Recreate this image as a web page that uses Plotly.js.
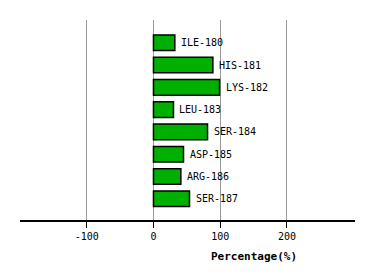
<!DOCTYPE html>
<html><head><meta charset="utf-8">
<script src="https://cdn.plot.ly/plotly-3.0.1.min.js"></script>
<style>html,body{margin:0;padding:0;background:#fff}#c{width:374px;height:280px}</style>
</head><body><div id="c"></div>
<script>
const residues = ["ILE-180","HIS-181","LYS-182","LEU-183","SER-184","ASP-185","ARG-186","SER-187"];
const percentages = [32, 89, 99, 30, 81, 45, 41, 54];
const xTicks = [-100, 0, 100, 200];

const pos = residues.map((_, i) => i);
const trace = {
  type: 'bar', orientation: 'h',
  x: percentages, y: pos, width: 0.7,
  marker: {color: '#00b000', line: {color: '#000', width: 1.5}},
  hoverinfo: 'none'
};
const annotations = residues.map((r, i) => ({
  x: percentages[i], y: i, xref: 'x', yref: 'y', text: r,
  showarrow: false, xanchor: 'left', xshift: 4, yanchor: 'middle',
  font: {family: 'DejaVu Sans Mono', size: 10, color: '#000'}
}));
annotations.push({
  x: 0.70, y: 0, xref: 'paper', yref: 'paper', yshift: -28, yanchor: 'top', xanchor: 'center',
  text: '<b>Percentage(%)</b>', showarrow: false,
  font: {family: 'DejaVu Sans Mono', size: 11, color: '#000'}
});
const layout = {
  width: 374, height: 280,
  margin: {l: 20, r: 19, t: 20, b: 60},
  paper_bgcolor: '#fff', plot_bgcolor: '#fff',
  showlegend: false,
  xaxis: {
    range: [-200, 302], tickvals: xTicks, ticktext: xTicks.map(String),
    showgrid: true, gridcolor: '#999', gridwidth: 1, zeroline: false,
    showline: true, linecolor: '#000', linewidth: 1.5,
    ticks: 'outside', ticklen: 6, tickcolor: '#000',
    tickfont: {family: 'DejaVu Sans Mono', size: 10, color: '#000'}
  },
  yaxis: {
    range: [7.95, -1.02], showticklabels: false, showgrid: false,
    zeroline: false, showline: false, ticks: ''
  },
  annotations: annotations
};
Plotly.newPlot('c', [trace], layout, {staticPlot: true, displayModeBar: false});
</script></body></html>
